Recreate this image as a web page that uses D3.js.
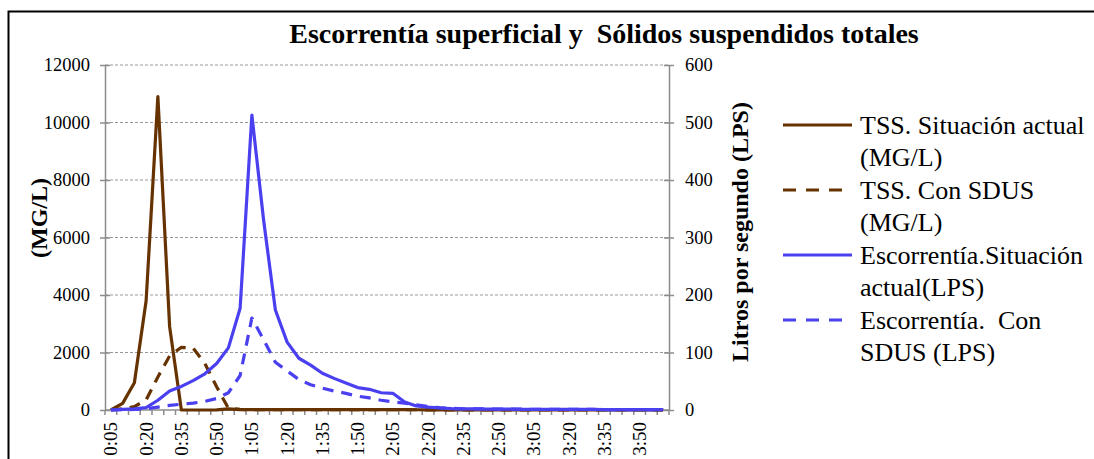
<!DOCTYPE html>
<html>
<head>
<meta charset="utf-8">
<script src="https://cdn.jsdelivr.net/npm/d3@7"></script>
<style>
  body { margin: 0; background: #fff; }
  svg { display: block; }
  svg text { font-family: "Liberation Serif", "DejaVu Serif", serif; }
</style>
</head>
<body>
<svg id="chart" width="1094" height="459"></svg>
<script>
var categories = ["0:05","0:10","0:15","0:20","0:25","0:30","0:35","0:40","0:45","0:50","0:55","1:00",
  "1:05","1:10","1:15","1:20","1:25","1:30","1:35","1:40","1:45","1:50","1:55","2:00",
  "2:05","2:10","2:15","2:20","2:25","2:30","2:35","2:40","2:45","2:50","2:55","3:00",
  "3:05","3:10","3:15","3:20","3:25","3:30","3:35","3:40","3:45","3:50","3:55","4:00"]

// TSS (MG/L), left axis
var tssActual = [0,230,950,3800,10900,2900,0,0,0,5,40,15,
  10,10,10,10,10,10,10,10,10,10,10,10,
  10,10,8,6,4,2,1,0,0,0,0,0,
  0,0,0,0,0,0,0,0,0,0,0,0]
var tssSdus = [0,40,120,350,1150,1880,2180,2150,1620,810,60,20,
  10,10,10,10,10,10,10,10,10,10,10,10,
  10,10,8,6,4,2,1,0,0,0,0,0,
  0,0,0,0,0,0,0,0,0,0,0,0]
// Escorrentia (LPS), right axis
var escActual = [0,1,2,4,17,33,41,51,63,81,108,177,
  513,330,174,118,90,78,64,55,47,39,36,30,
  29,14,7,5,3.5,2.5,2,2,1.5,1.5,1.5,1.2,
  1.2,1,1,1,1,1,0.8,0.8,0.8,0.6,0.6,0.5]
var escSdus = [0,0.5,1,2,5,8,10,12,15,20,30,60,
  160,122,83,68,53,44,38,33,29,24,21,17,
  14,12,9,6,4,3,2,2,2,1.5,1.5,1.5,
  1.2,1.2,1,1,1,1,0.8,0.8,0.8,0.6,0.6,0.5]

var leftTicks = [0,2000,4000,6000,8000,10000,12000]
var rightTicks = [0,100,200,300,400,500,600]

var brown = "#663300", blue = "#4a40f0"
var serif = "'Liberation Serif', 'DejaVu Serif', serif"
var series = [
  { name: ["TSS. Situación actual", "(MG/L)"], values: tssActual, axis: "left", color: brown, dash: null },
  { name: ["TSS. Con SDUS", "(MG/L)"], values: tssSdus, axis: "left", color: brown, dash: "11,8" },
  { name: ["Escorrentía.Situación", "actual(LPS)"], values: escActual, axis: "right", color: blue, dash: null },
  { name: ["Escorrentía.  Con", "SDUS (LPS)"], values: escSdus, axis: "right", color: blue, dash: "11,8" }
]

function draw() {
  var svg = d3.select("#chart").attr("font-family", serif)
  var pLeft = 105, pRight = 669, pTop = 65, pBottom = 410

  // outer frame
  svg.append("rect")
    .attr("x", 8.5).attr("y", 11.5)
    .attr("width", 1200).attr("height", 600)
    .attr("fill", "none").attr("stroke", "#000").attr("stroke-width", 2)

  var x = d3.scaleBand().domain(categories).range([pLeft, pRight]).padding(0)
  var cx = d => x(d) + x.bandwidth() / 2
  var yL = d3.scaleLinear().domain([0, 12000]).range([pBottom, pTop])
  var yR = d3.scaleLinear().domain([0, 600]).range([pBottom, pTop])

  // gridlines
  svg.append("g").selectAll("line")
    .data(leftTicks.slice(1))
    .join("line")
    .attr("x1", pLeft).attr("x2", pRight)
    .attr("y1", d => yL(d)).attr("y2", d => yL(d))
    .attr("stroke", "#999").attr("stroke-dasharray", "3,2").attr("stroke-width", 1)

  // left axis
  var gL = svg.append("g").attr("transform", "translate(" + pLeft + ",0)")
    .call(d3.axisLeft(yL).tickValues(leftTicks).tickSizeInner(5).tickSizeOuter(0).tickPadding(10).tickFormat(d3.format("d")))
  gL.selectAll(".tick line").attr("x2", -5).attr("x1", 5)
  // right axis
  var gR = svg.append("g").attr("transform", "translate(" + pRight + ",0)")
    .call(d3.axisRight(yR).tickValues(rightTicks).tickSizeInner(5).tickSizeOuter(0).tickPadding(11).tickFormat(d3.format("d")))
  gR.selectAll(".tick line").attr("x1", -5).attr("x2", 5)

  ;[gL, gR].forEach(function(g) {
    g.attr("font-family", serif).attr("font-size", 18.5)
    g.select(".domain").attr("stroke", "#8c8c8c").attr("stroke-width", 1.5)
    g.selectAll(".tick line").attr("stroke", "#8c8c8c").attr("stroke-width", 1.5)
    g.selectAll(".tick text").attr("fill", "#000")
  })

  // x axis: ticks between categories
  var bounds = categories.map(d => x(d)).concat([pRight])
  svg.append("g").selectAll("line")
    .data(bounds)
    .join("line")
    .attr("x1", d => d).attr("x2", d => d)
    .attr("y1", pBottom).attr("y2", pBottom + 5)
    .attr("stroke", "#8c8c8c").attr("stroke-width", 1.5)
  svg.append("line")
    .attr("x1", pLeft).attr("x2", pRight).attr("y1", pBottom).attr("y2", pBottom)
    .attr("stroke", "#8c8c8c").attr("stroke-width", 1.5)

  svg.append("g").selectAll("text")
    .data(categories.filter((d, i) => i % 3 === 0))
    .join("text")
    .attr("transform", d => "translate(" + (cx(d) + 6.5) + "," + (pBottom + 12) + ") rotate(-90)")
    .attr("text-anchor", "end")
    .attr("font-size", 19)
    .text(d => d)

  // lines
  var lineFor = s => d3.line()
    .x((v, i) => cx(categories[i]))
    .y(v => (s.axis === "left" ? yL : yR)(v))

  series.forEach(function(s) {
    svg.append("path")
      .datum(s.values)
      .attr("d", lineFor(s))
      .attr("fill", "none")
      .attr("stroke", s.color)
      .attr("stroke-width", 3.2)
      .attr("stroke-linejoin", "round")
      .attr("stroke-dasharray", s.dash)
  })

  // title
  svg.append("text")
    .attr("x", 604).attr("y", 43)
    .attr("text-anchor", "middle")
    .attr("font-size", 28).attr("font-weight", "bold")
    .attr("xml:space", "preserve")
    .text("Escorrentía superficial y  Sólidos suspendidos totales")

  // axis titles
  svg.append("text")
    .attr("transform", "translate(39,218) rotate(-90)")
    .attr("text-anchor", "middle").attr("dy", "0.35em")
    .attr("font-size", 24).attr("font-weight", "bold")
    .text("(MG/L)")
  svg.append("text")
    .attr("transform", "translate(740,232) rotate(-90)")
    .attr("text-anchor", "middle").attr("dy", "0.35em")
    .attr("font-size", 24).attr("font-weight", "bold")
    .text("Litros por segundo (LPS)")

  // legend
  var lg = svg.append("g").selectAll("g")
    .data(series)
    .join("g")
    .attr("transform", (d, i) => "translate(783," + (125 + i * 65) + ")")
  lg.append("line")
    .attr("x1", 0).attr("x2", 69)
    .attr("stroke", d => d.color).attr("stroke-width", 3.2)
    .attr("stroke-dasharray", d => d.dash ? "13,10" : null)
  lg.append("text")
    .attr("x", 77).attr("y", 9)
    .attr("font-size", 26)
    .attr("xml:space", "preserve")
    .selectAll("tspan")
    .data(d => d.name)
    .join("tspan")
    .attr("x", 77)
    .attr("dy", (d, i) => i === 0 ? 0 : 32)
    .text(d => d)
}
draw()
</script>
</body>
</html>
